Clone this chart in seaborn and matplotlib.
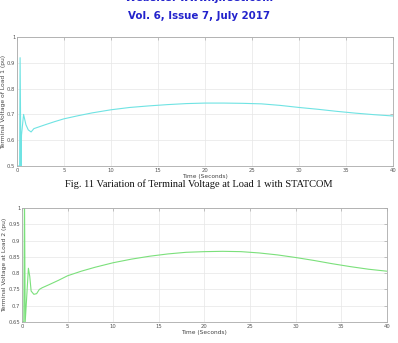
import matplotlib
matplotlib.use('Agg')
import matplotlib.pyplot as plt
import numpy as np
import seaborn as sns

# Load 1 terminal voltage (pu) vs time (s)
time_1 = [0, 0.28, 0.33, 0.42, 0.48, 0.7, 0.95, 1.2, 1.5, 1.8, 2.2, 3, 4, 5, 6.5, 8,
          10, 12, 14, 16, 18, 20, 22, 24, 26, 28, 30, 32, 34, 36, 38, 40]
volt_1 = [0.5, 0.5, 0.92, 0.5, 0.62, 0.70, 0.66, 0.64, 0.632, 0.645, 0.65, 0.66, 0.672,
          0.683, 0.695, 0.706, 0.718, 0.727, 0.733, 0.738, 0.742, 0.744, 0.744, 0.743,
          0.741, 0.735, 0.727, 0.72, 0.712, 0.705, 0.699, 0.694]

# Load 2 terminal voltage (pu) vs time (s)
time_2 = [0, 0.2, 0.27, 0.35, 0.5, 0.7, 0.85, 1.0, 1.3, 1.6, 1.9, 2.2, 3, 4, 5, 6.5, 8,
          10, 12, 14, 16, 18, 20, 22, 24, 26, 28, 30, 32, 34, 36, 38, 40]
volt_2 = [0.65, 0.65, 1.05, 0.65, 0.72, 0.815, 0.79, 0.745, 0.735, 0.737, 0.75, 0.755,
          0.765, 0.778, 0.792, 0.806, 0.818, 0.832, 0.843, 0.852, 0.859, 0.864, 0.866,
          0.867, 0.866, 0.862, 0.856, 0.848, 0.839, 0.829, 0.82, 0.812, 0.806]

x_ticks = np.arange(0, 41, 5)
y_ticks_1 = [0.5, 0.6, 0.7, 0.8, 0.9, 1]
y_ticks_2 = [0.65, 0.7, 0.75, 0.8, 0.85, 0.9, 0.95, 1]

sns.set_style('white')
plt.rcParams['font.family'] = ['DejaVu Sans']

fig = plt.figure(figsize=(3.98, 3.43), dpi=100)
fig.patch.set_facecolor('white')

ax1 = fig.add_axes([0.0427, 0.516, 0.9447, 0.376])
ax2 = fig.add_axes([0.0553, 0.0612, 0.9167, 0.3324])


def style_axes(ax, yt, ylim, ylabel):
    ax.set_xlim(0, 40)
    ax.set_ylim(*ylim)
    ax.set_xticks(x_ticks)
    ax.set_yticks(yt)
    ax.set_xticklabels([str(v) for v in x_ticks])
    ax.set_yticklabels([('%g' % v) for v in yt])
    ax.grid(True, color='#e6e6e6', linewidth=0.5)
    ax.tick_params(direction='in', length=2, width=0.4, labelsize=3.8,
                   colors='#999999', labelcolor='#555555', pad=1.2,
                   top=True, right=True)
    for s in ax.spines.values():
        s.set_color('#aaaaaa')
        s.set_linewidth(0.6)
    ax.set_ylabel(ylabel, fontsize=4.3, color='#444444', labelpad=0.8)
    ax.set_xlabel('Time (Seconds)', fontsize=4.2, color='#444444', labelpad=1)


sns.lineplot(x=time_1, y=volt_1, ax=ax1, color='#6fe3e3', linewidth=0.8,
             estimator=None, sort=False)
style_axes(ax1, y_ticks_1, (0.5, 1), 'Terminal Voltage of Load 1 (pu)')

sns.lineplot(x=time_2, y=volt_2, ax=ax2, color='#7be07b', linewidth=0.8,
             estimator=None, sort=False)
style_axes(ax2, y_ticks_2, (0.65, 1), 'Terminal Voltage at Load 2 (pu)')

# header line cut by the top edge, as in the scanned page
fig.text(0.5, 1.007, 'Website: www.ijirset.com', ha='center', va='center',
         fontsize=7.4, fontweight='bold', color='#2222cc')
fig.text(0.5, 0.953, 'Vol. 6, Issue 7, July 2017', ha='center', va='center',
         fontsize=7.4, fontweight='bold', color='#2222cc')
fig.text(0.5, 0.462, 'Fig. 11 Variation of Terminal Voltage at Load 1 with STATCOM',
         ha='center', va='center', fontsize=7.5, family='Liberation Serif',
         color='#111111')

fig.savefig('out.png', dpi=100, facecolor='white')
